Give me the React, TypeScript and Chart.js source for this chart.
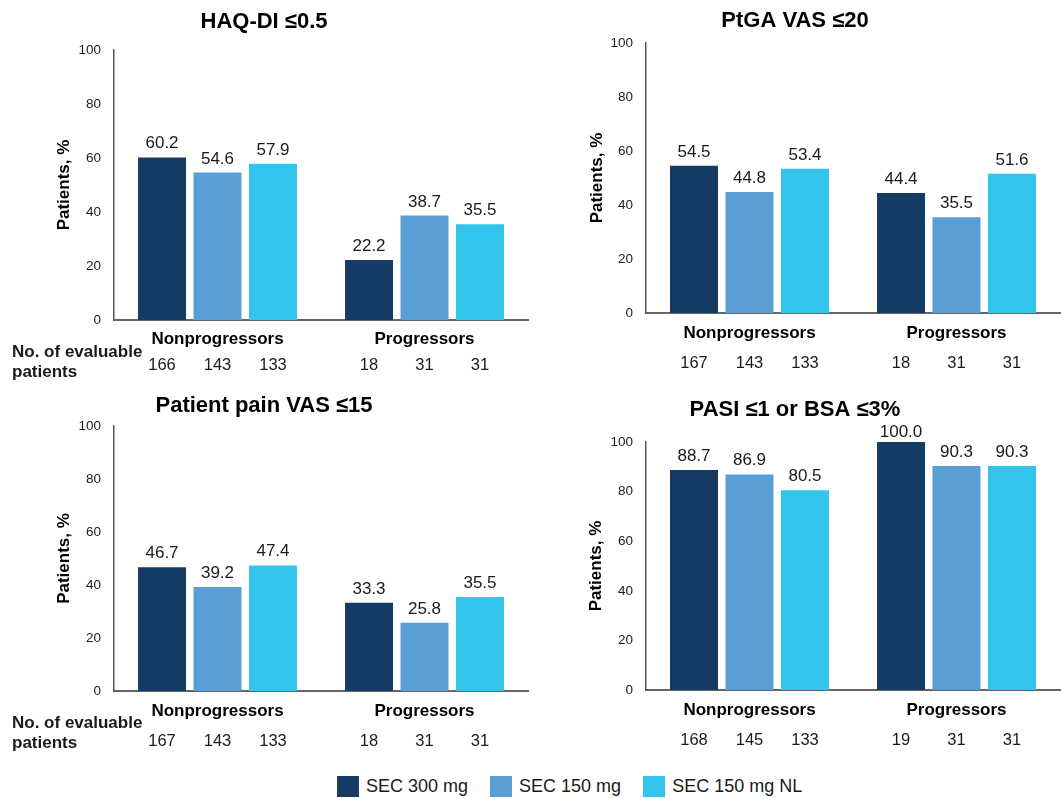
import React, { useEffect, useRef } from "react";
import { Chart, registerables } from "chart.js";

Chart.register(...registerables);

const FONT = "'Liberation Sans', Arial, Helvetica, sans-serif";
const TEXT = "#1a1a1a";

const categories = ["Nonprogressors", "Progressors"];
const seriesLabels = ["SEC 300 mg", "SEC 150 mg", "SEC 150 mg NL"];
const seriesColors = ["#143B63", "#5A9ED6", "#33C4EC"];
const yTickValues = [0, 20, 40, 60, 80, 100];
const yAxisTitle = "Patients, %";
const evaluableLines = ["No. of evaluable", "patients"];

const haqTitle = "HAQ-DI ≤0.5";
const haqSec300 = [60.2, 22.2];
const haqSec150 = [54.6, 38.7];
const haqSec150NL = [57.9, 35.5];
const haqN300 = [166, 18];
const haqN150 = [143, 31];
const haqN150NL = [133, 31];

const ptgaTitle = "PtGA VAS ≤20";
const ptgaSec300 = [54.5, 44.4];
const ptgaSec150 = [44.8, 35.5];
const ptgaSec150NL = [53.4, 51.6];
const ptgaN300 = [167, 18];
const ptgaN150 = [143, 31];
const ptgaN150NL = [133, 31];

const painTitle = "Patient pain VAS ≤15";
const painSec300 = [46.7, 33.3];
const painSec150 = [39.2, 25.8];
const painSec150NL = [47.4, 35.5];
const painN300 = [167, 18];
const painN150 = [143, 31];
const painN150NL = [133, 31];

const pasiTitle = "PASI ≤1 or BSA ≤3%";
const pasiSec300 = [88.7, 100.0];
const pasiSec150 = [86.9, 90.3];
const pasiSec150NL = [80.5, 90.3];
const pasiN300 = [168, 19];
const pasiN150 = [145, 31];
const pasiN150NL = [133, 31];

type PanelCfg = {
  title: string;
  values: number[][];
  counts: number[][];
  left: number;
  top: number;
  w: number;
  h: number;
  yWidth: number;
  xHeight: number;
  padRight: number;
  titlePad: { top: number; bottom: number };
  yTitlePad: number;
  tickPad: number;
  countOffset: number;
  evaluable: boolean;
};

const panels: PanelCfg[] = [
  {
    title: haqTitle,
    values: [haqSec300, haqSec150, haqSec150NL],
    counts: [haqN300, haqN150, haqN150NL],
    left: 0, top: 0, w: 530, h: 385,
    yWidth: 114, xHeight: 65, padRight: 2,
    titlePad: { top: 8.8, bottom: 14.8 },
    yTitlePad: 54, tickPad: 9, countOffset: 50, evaluable: true,
  },
  {
    title: ptgaTitle,
    values: [ptgaSec300, ptgaSec150, ptgaSec150NL],
    counts: [ptgaN300, ptgaN150, ptgaN150NL],
    left: 530, top: 0, w: 531, h: 385,
    yWidth: 116, xHeight: 72, padRight: 1,
    titlePad: { top: 7.8, bottom: 8.8 },
    yTitlePad: 57, tickPad: 10, countOffset: 55, evaluable: false,
  },
  {
    title: painTitle,
    values: [painSec300, painSec150, painSec150NL],
    counts: [painN300, painN150, painN150NL],
    left: 0, top: 385, w: 530, h: 380,
    yWidth: 114, xHeight: 74, padRight: 2,
    titlePad: { top: 7.3, bottom: 7.3 },
    yTitlePad: 54, tickPad: 10, countOffset: 54.5, evaluable: true,
  },
  {
    title: pasiTitle,
    values: [pasiSec300, pasiSec150, pasiSec150NL],
    counts: [pasiN300, pasiN150, pasiN150NL],
    left: 530, top: 385, w: 531, h: 380,
    yWidth: 116, xHeight: 75, padRight: 1,
    titlePad: { top: 11.8, bottom: 18.8 },
    yTitlePad: 56.5, tickPad: 10, countOffset: 55, evaluable: false,
  },
];

function makeAnnotate(cfg: PanelCfg) {
  return {
    id: "annotate",
    afterDatasetsDraw(chart: any) {
      const ctx = chart.ctx;
      const area = chart.chartArea;
      ctx.save();
      ctx.fillStyle = TEXT;
      ctx.textAlign = "center";
      ctx.textBaseline = "alphabetic";
      chart.data.datasets.forEach((ds: any, di: number) => {
        const meta = chart.getDatasetMeta(di);
        meta.data.forEach((bar: any, i: number) => {
          const v = ds.data[i] as number;
          ctx.font = `17px ${FONT}`;
          ctx.fillText(v.toFixed(1), bar.x, bar.y - (v >= 100 ? 5 : 9));
          ctx.font = `16.5px ${FONT}`;
          ctx.fillText(String(cfg.counts[di][i]), bar.x, area.bottom + cfg.countOffset);
        });
      });
      if (cfg.evaluable) {
        ctx.textAlign = "left";
        ctx.font = `bold 17px ${FONT}`;
        ctx.fillText(evaluableLines[0], 12, area.bottom + 37);
        ctx.fillText(evaluableLines[1], 12, area.bottom + 56.5);
      }
      ctx.restore();
    },
  };
}

function Panel({ cfg }: { cfg: PanelCfg }) {
  const ref = useRef<HTMLCanvasElement>(null);
  useEffect(() => {
    if (!ref.current) return;
    const chart = new Chart(ref.current, {
      type: "bar",
      data: {
        labels: categories,
        datasets: cfg.values.map((vals, i) => ({
          label: seriesLabels[i],
          data: vals,
          backgroundColor: seriesColors[i],
          borderWidth: 0,
          categoryPercentage: 0.804,
          barPercentage: 0.865,
        })),
      },
      options: {
        animation: false,
        responsive: false,
        maintainAspectRatio: false,
        layout: { padding: { left: 0, right: cfg.padRight, top: 0, bottom: 0 } },
        plugins: {
          legend: { display: false },
          tooltip: { enabled: false },
          title: {
            display: true,
            text: cfg.title,
            color: "#000",
            font: { family: FONT, size: 22, weight: "bold", lineHeight: 1.2 },
            padding: cfg.titlePad,
          },
        },
        scales: {
          x: {
            grid: { display: false, drawTicks: false },
            border: { display: true, color: "#666666", width: 2 },
            ticks: {
              color: "#000",
              padding: cfg.tickPad,
              font: { family: FONT, size: 17, weight: "bold", lineHeight: 1.2 },
            },
            afterFit: (s: any) => {
              s.height = cfg.xHeight;
            },
          },
          y: {
            min: 0,
            max: 100,
            grid: { display: false, drawTicks: false },
            border: { display: true, color: "#555555", width: 1.5 },
            ticks: {
              color: TEXT,
              padding: 13,
              font: { family: FONT, size: 13.5 },
            },
            afterBuildTicks: (s: any) => {
              s.ticks = yTickValues.map((v) => ({ value: v }));
            },
            afterFit: (s: any) => {
              s.width = cfg.yWidth;
            },
            title: {
              display: true,
              text: yAxisTitle,
              color: "#000",
              font: { family: FONT, size: 17, weight: "bold", lineHeight: 1.2 },
              padding: { top: cfg.yTitlePad, bottom: 0 },
            },
          },
        },
      },
      plugins: [makeAnnotate(cfg)],
    } as any);
    return () => chart.destroy();
  }, [cfg]);
  return (
    <canvas
      ref={ref}
      width={cfg.w}
      height={cfg.h}
      style={{ position: "absolute", left: cfg.left, top: cfg.top, width: cfg.w, height: cfg.h }}
    />
  );
}

export default function App() {
  return (
    <div
      style={{
        position: "absolute",
        left: 0,
        top: 0,
        width: 1061,
        height: 798,
        background: "#fff",
        overflow: "hidden",
        fontFamily: FONT,
      }}
    >
      {panels.map((p, i) => (
        <Panel key={i} cfg={p} />
      ))}
      <div
        style={{
          position: "absolute",
          left: 337,
          top: 775,
          display: "flex",
          alignItems: "center",
          height: 22,
        }}
      >
        {seriesLabels.map((lab, i) => (
          <div key={lab} style={{ display: "flex", alignItems: "center", marginRight: 22 }}>
            <div style={{ width: 22, height: 21, background: seriesColors[i], marginRight: 7 }} />
            <span style={{ fontSize: 18, color: TEXT, lineHeight: "21px", whiteSpace: "nowrap" }}>{lab}</span>
          </div>
        ))}
      </div>
    </div>
  );
}
